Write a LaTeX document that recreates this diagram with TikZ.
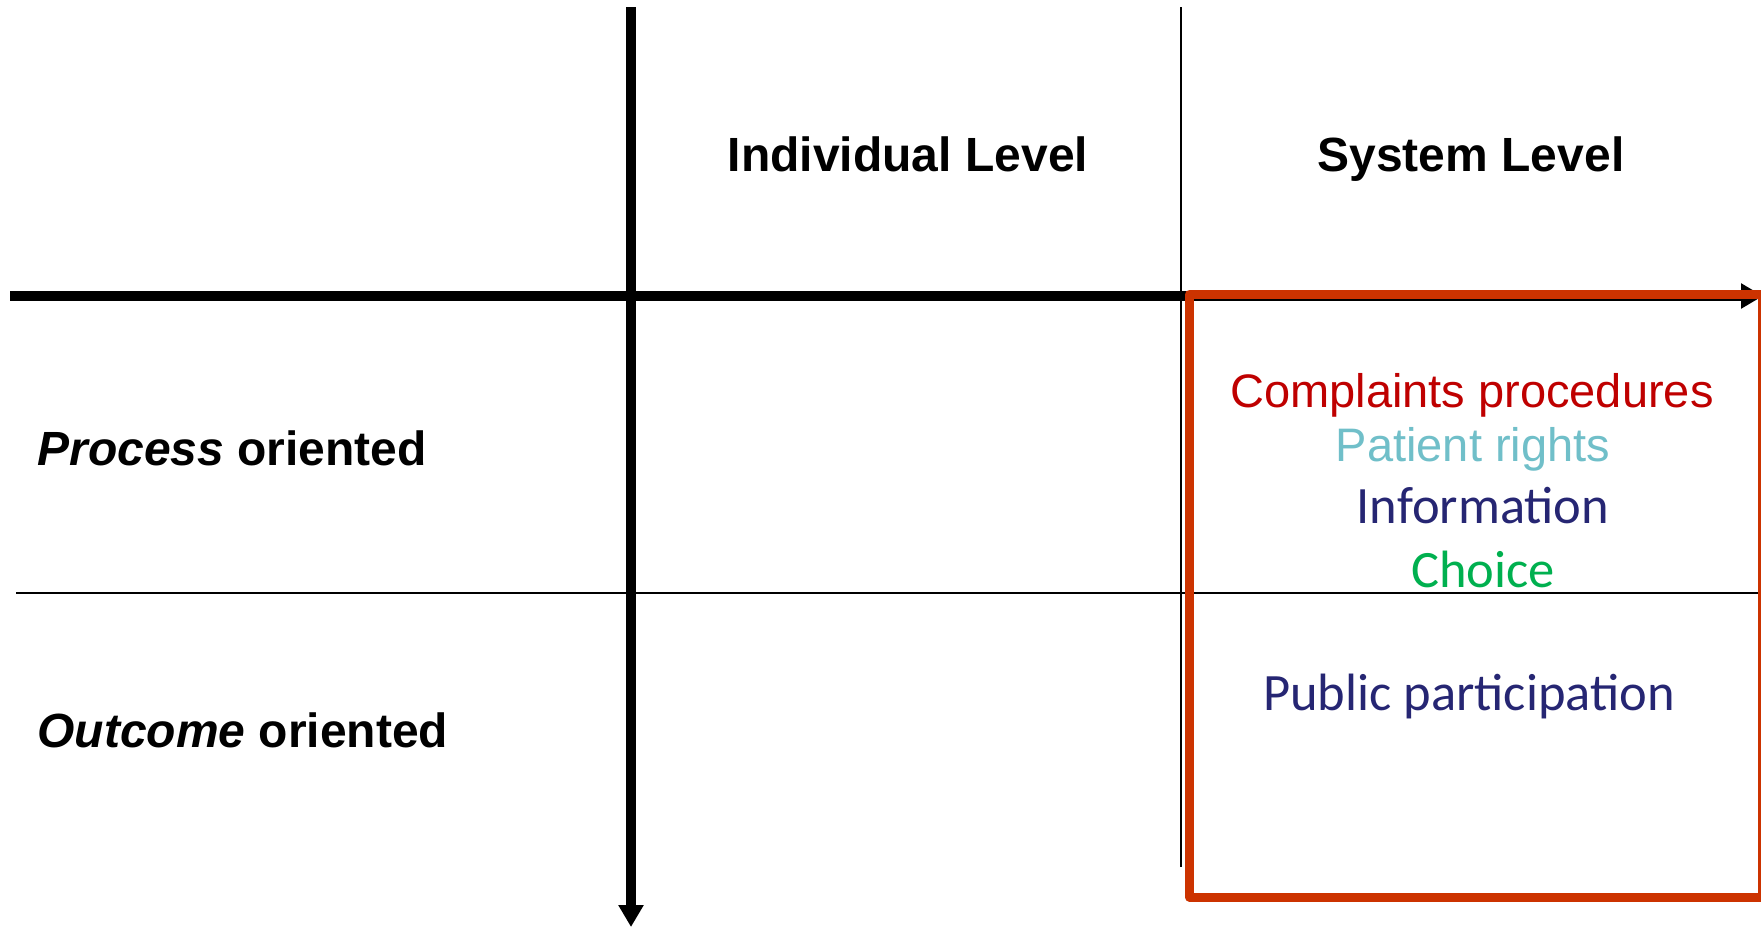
\documentclass[tikz,border=0pt]{standalone}
\usepackage{fontspec}
\setmainfont{Liberation Sans}
\newfontfamily\calibri{Carlito}
\usetikzlibrary{arrows.meta}
\definecolor{rrqqqq}{rgb}{0.75,0.,0.}
\definecolor{ccttqq}{rgb}{0.8,0.2,0.}
\definecolor{ttbbcc}{rgb}{0.44,0.75,0.79}
\definecolor{qqqqtt}{rgb}{0.15,0.15,0.45}
\definecolor{qqaatt}{rgb}{0.,0.69,0.31}
\tikzset{
  heading/.style={anchor=base,inner sep=0pt,font=\fontsize{24}{28}\selectfont\bfseries},
  rowlabel/.style={anchor=base west,inner sep=0pt,font=\fontsize{24}{28}\selectfont\bfseries},
  arialitem/.style={anchor=base,inner sep=0pt,font=\fontsize{23.5}{28}\selectfont},
  calibriitem/.style={anchor=base,inner sep=0pt,font=\fontsize{26.25}{30}\selectfont\calibri}
}

\begin{document}
\begin{tikzpicture}[line cap=butt,line join=round,>={Triangle[width=12pt,length=11pt]},x=0.5pt,y=-0.5pt]
\clip(0.,0.) rectangle (1761.,928.);
\fill[white] (0.,0.) rectangle (1761.,928.);
% axes
\coordinate (xstart) at (10.,296.);
\coordinate (xend) at (1763.,296.);
\coordinate (ystart) at (631.,7.);
\coordinate (yend) at (631.,927.);
\draw [line width=1pt] (1181.,7.)-- (1181.,867.);
\draw [line width=1pt] (16.,593.)-- (1761.,593.);
\draw [->,line width=5pt] (xstart)-- (xend);
\draw [->,line width=5pt] (ystart)-- (yend);
\draw [line width=4.5pt,color=ccttqq] (1189.5,294.5) rectangle (1762.,897.);
% labels
\node[heading] (indiv) at (908.,171.) {Individual Level};
\node[heading] (system) at (1471.,171.) {System Level};
\node[rowlabel] (process) at (37.,465.) {\textit{Process} oriented};
\node[rowlabel] (outcome) at (37.,747.) {\textit{Outcome} oriented};
\node[arialitem,text=rrqqqq] (complaints) at (1472.,407.) {Complaints procedures};
\node[arialitem,text=ttbbcc] (rights) at (1473.,461.) {Patient rights};
\node[calibriitem,text=qqqqtt] (info) at (1483.,523.) {Information};
\node[calibriitem,text=qqaatt] (choice) at (1483.,587.) {Choice};
\node[calibriitem,text=qqqqtt] (public) at (1469.,710.) {Public participation};
\end{tikzpicture}
\end{document}
